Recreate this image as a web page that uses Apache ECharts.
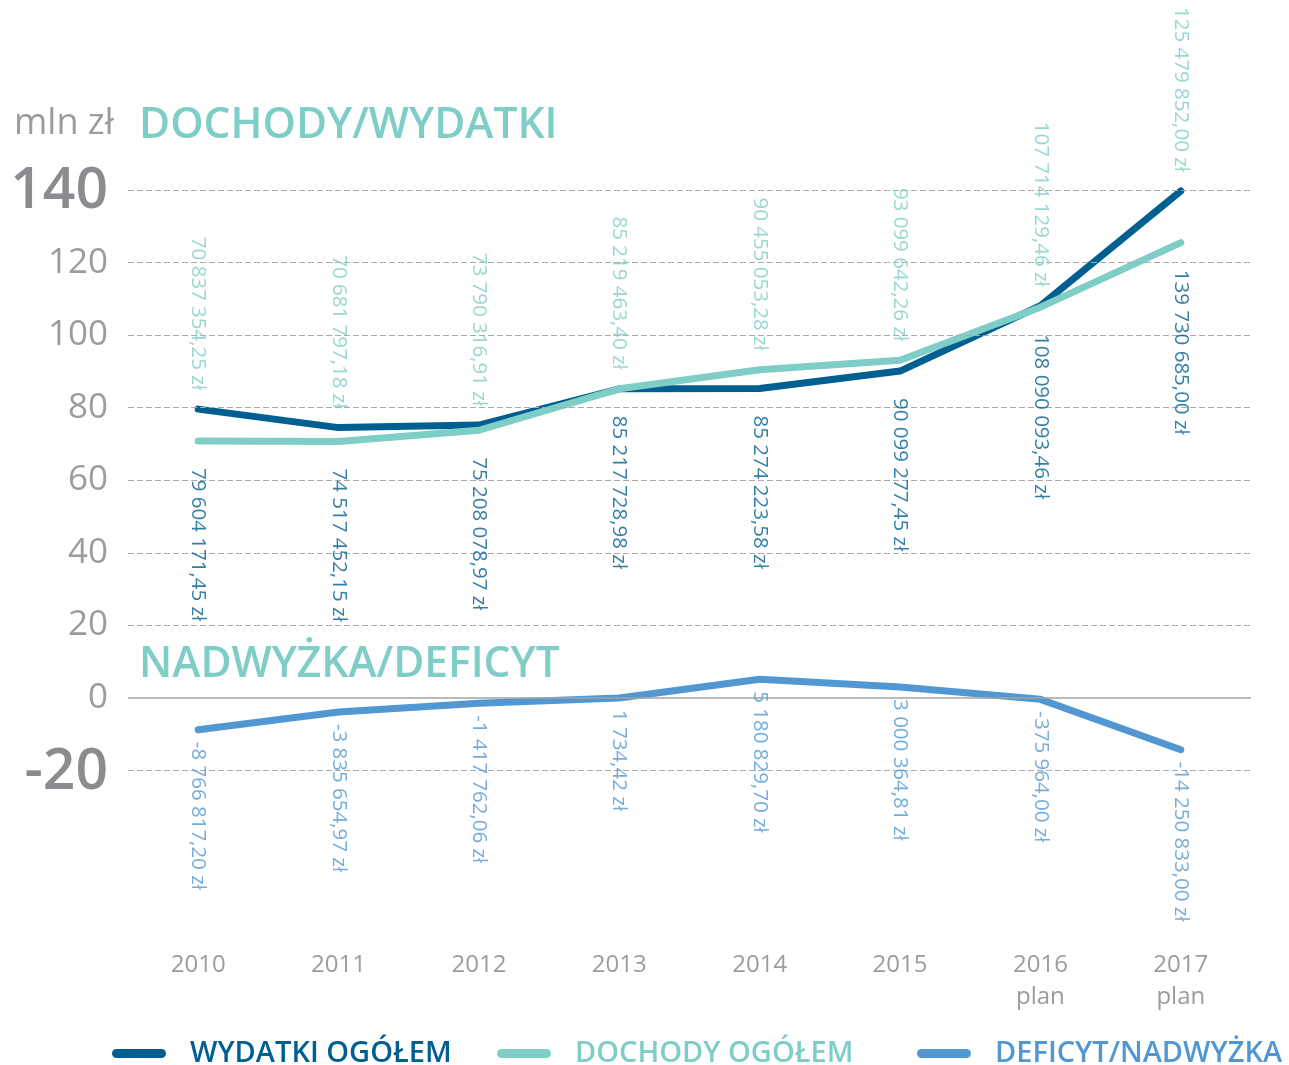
<!DOCTYPE html>
<html>
<head>
<meta charset="utf-8">
<script src="https://cdn.jsdelivr.net/npm/echarts@6/dist/echarts.min.js"></script>
<style>
html,body{margin:0;padding:0;background:#fff;}
#chart{width:1289px;height:1065px;}
</style>
</head>
<body>
<div id="chart"></div>
<script>
// ---- data ----
const years = ['2010', '2011', '2012', '2013', '2014', '2015', '2016\nplan', '2017\nplan'];
const wydatki = [79604171.45, 74517452.15, 75208078.97, 85217728.98, 85274223.58, 90099277.45, 108090093.46, 139730685.00];
const dochody = [70837354.25, 70681797.18, 73790316.91, 85219463.40, 90455053.28, 93099642.26, 107714129.46, 125479852.00];
const deficyt = [-8766817.20, -3835654.97, -1417762.06, 1734.42, 5180829.70, 3000364.81, -375964.00, -14250833.00];
const gridTicks = [-20, 0, 20, 40, 60, 80, 100, 120, 140];
const boldTicks = [140, -20];

const C_WYD = '#005f91';
const C_DOCH = '#7ecdc7';
const C_DEF = '#5198d3';
const C_GRAY = '#9b9c9f';
const FONT = '"Open Sans", "Noto Sans", sans-serif';

function fmt(v) {
  const neg = v < 0;
  const s = Math.abs(v).toFixed(2);
  const parts = s.split('.');
  const g = parts[0].replace(/\B(?=(\d{3})+(?!\d))/g, ' ');
  return (neg ? '-' : '') + g + ',' + parts[1] + ' zł';
}
const toMln = v => v / 1e6;
const topAnchor = wydatki.map((w, i) => Math.max(w, dochody[i]) / 1e6);
const botAnchor = wydatki.map((w, i) => Math.min(w, dochody[i]) / 1e6);

const chart = echarts.init(document.getElementById('chart'), null, {renderer: 'canvas'});

const labelBase = {
  show: true,
  rotate: -90,
  verticalAlign: 'middle',
  fontFamily: FONT,
  fontSize: 20.5
};

const option = {
  animation: false,
  backgroundColor: '#ffffff',
  grid: {left: 128, right: 38, top: 190, bottom: 149.3, containLabel: false},
  xAxis: {
    type: 'category',
    data: years,
    boundaryGap: true,
    axisLine: {show: false},
    axisTick: {show: false},
    axisLabel: {
      margin: 33,
      color: C_GRAY,
      fontFamily: FONT,
      fontSize: 24,
      lineHeight: 32
    },
    splitLine: {show: false}
  },
  yAxis: {
    type: 'value',
    min: -60,
    max: 140,
    interval: 20,
    axisLine: {show: false},
    axisTick: {show: false},
    splitLine: {show: false},
    axisLabel: {
      margin: 20,
      formatter: function (v) {
        if (gridTicks.indexOf(v) < 0) return '';
        return boldTicks.indexOf(v) >= 0 ? '{b|' + v + '}' : '{n|' + v + '}';
      },
      rich: {
        b: {fontFamily: FONT, fontSize: 57, fontWeight: 600, color: '#8b8c8f', padding: [4, 0, 0, 0]},
        n: {fontFamily: FONT, fontSize: 35, color: C_GRAY}
      }
    }
  },
  legend: [
    {left: 112, data: [{name: 'WYDATKI OGÓŁEM', textStyle: {color: C_WYD}}]},
    {left: 497, data: [{name: 'DOCHODY OGÓŁEM', textStyle: {color: C_DOCH}}]},
    {left: 917, data: [{name: 'DEFICYT/NADWYŻKA', textStyle: {color: C_DEF}}]}
  ].map(l => Object.assign({
    top: 1039,
    padding: 0,
    itemWidth: 54,
    itemHeight: 9,
    icon: 'path://M4.5 0H49.5A4.5 4.5 0 0 1 49.5 9H4.5A4.5 4.5 0 0 1 4.5 0Z',
    selectedMode: false,
    textStyle: {fontFamily: FONT, fontSize: 29, fontWeight: 600, padding: [0, 0, 0, 19]}
  }, l)),
  graphic: [
    {type: 'text', left: 14, top: 106, style: {text: 'mln zł', font: '36px ' + FONT, fill: C_GRAY}},
    {type: 'text', left: 139, top: 104, style: {text: 'DOCHODY/WYDATKI', font: '600 42.5px ' + FONT, fill: C_DOCH}},
    {type: 'text', left: 139, top: 643, style: {text: 'NADWYŻKA/DEFICYT', font: '600 42.5px ' + FONT, fill: C_DOCH}}
  ],
  series: [
    {
      name: 'grid',
      type: 'line',
      data: [],
      silent: true,
      z: 1,
      markLine: {
        silent: true,
        symbol: 'none',
        label: {show: false},
        animation: false,
        data: gridTicks.map(v => ({
          yAxis: v,
          lineStyle: v === 0
            ? {type: 'solid', color: '#a3a3a3', width: 1.6}
            : {type: [6, 3], color: '#aaaaaa', width: 1.2}
        }))
      }
    },
    {
      name: 'WYDATKI OGÓŁEM',
      type: 'line',
      data: wydatki.map(toMln),
      color: C_WYD,
      symbol: 'none',
      z: 3,
      lineStyle: {width: 7, color: C_WYD, cap: 'round', join: 'round'}
    },
    {
      name: 'DOCHODY OGÓŁEM',
      type: 'line',
      data: dochody.map(toMln),
      color: C_DOCH,
      symbol: 'none',
      z: 4,
      lineStyle: {width: 7, color: C_DOCH, cap: 'round', join: 'round'}
    },
    {
      name: 'DEFICYT/NADWYŻKA',
      type: 'line',
      data: deficyt.map(toMln),
      color: C_DEF,
      symbol: 'none',
      z: 3,
      lineStyle: {width: 7, color: C_DEF, cap: 'round', join: 'round'}
    },
    {
      name: 'dochLabels',
      type: 'scatter',
      data: topAnchor,
      symbolSize: 2,
      itemStyle: {color: 'rgba(0,0,0,0)'},
      silent: true,
      z: 5,
      label: Object.assign({}, labelBase, {
        position: 'top', distance: 18, align: 'right', color: C_DOCH,
        formatter: p => fmt(dochody[p.dataIndex])
      })
    },
    {
      name: 'wydLabels',
      type: 'scatter',
      data: botAnchor,
      symbolSize: 2,
      itemStyle: {color: 'rgba(0,0,0,0)'},
      silent: true,
      z: 5,
      label: Object.assign({}, labelBase, {
        position: 'bottom', distance: 26, align: 'left', color: C_WYD,
        formatter: p => fmt(wydatki[p.dataIndex])
      })
    },
    {
      name: 'defLabels',
      type: 'scatter',
      data: deficyt.map(toMln),
      symbolSize: 2,
      itemStyle: {color: 'rgba(0,0,0,0)'},
      silent: true,
      z: 5,
      label: Object.assign({}, labelBase, {
        position: 'bottom', distance: 11, align: 'left', color: C_DEF,
        formatter: p => fmt(deficyt[p.dataIndex])
      })
    }
  ]
};
chart.setOption(option);
</script>
</body>
</html>
